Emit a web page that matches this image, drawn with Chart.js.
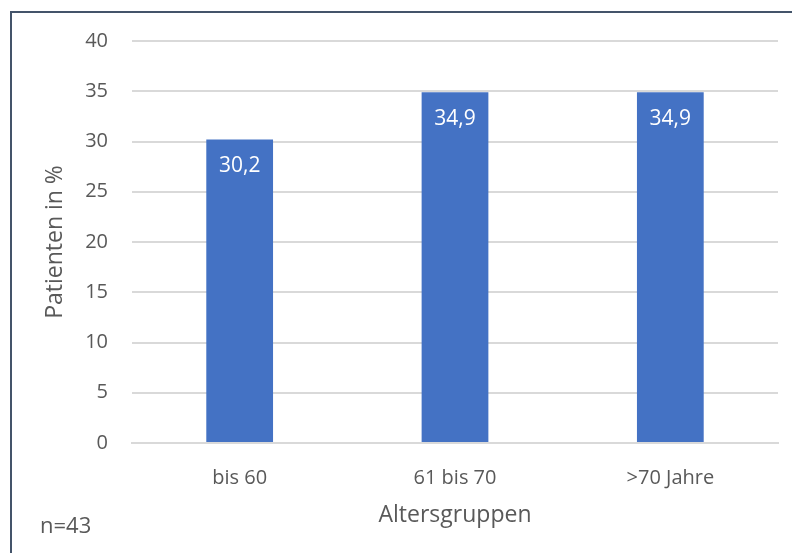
<!DOCTYPE html>
<html>
<head>
<meta charset="utf-8">
<script src="https://cdn.jsdelivr.net/npm/chart.js@4.4.0/dist/chart.umd.min.js"></script>
<style>
  html, body { margin: 0; padding: 0; background: #fff; overflow: hidden; }
  #rahmen { position: absolute; left: 10px; top: 11px; width: 820px; height: 580px; border: 2px solid #44546a; box-sizing: border-box; }
  #wrap { position: absolute; left: 0; top: 0; width: 792px; height: 553px; }
</style>
</head>
<body>
<div id="rahmen"></div>
<div id="wrap"><canvas id="myChart" width="792" height="553"></canvas></div>
<script>
const kategorien = ['bis 60', '61 bis 70', '>70 Jahre'];
const werte = [30.2, 34.9, 34.9];
const yTicks = [0, 5, 10, 15, 20, 25, 30, 35, 40];

const textFarbe = '#595959';
const schrift = "'Open Sans', sans-serif";

document.addEventListener('DOMContentLoaded', () => {

  const beschriftung = {
    id: 'beschriftung',
    afterDatasetsDraw(chart) {
      const ctx = chart.ctx;
      const meta = chart.getDatasetMeta(0);
      ctx.save();
      ctx.font = '21px ' + schrift;
      ctx.fillStyle = '#ffffff';
      ctx.textAlign = 'center';
      ctx.textBaseline = 'middle';
      meta.data.forEach((bar, i) => {
        ctx.fillText(werte[i].toFixed(1).replace('.', ','), bar.x, bar.y + 27);
      });
      ctx.font = '22px ' + schrift;
      ctx.fillStyle = textFarbe;
      ctx.textAlign = 'left';
      ctx.fillText('n=43', 40, 527);
      ctx.restore();
    }
  };

  const data = {
    labels: kategorien,
    datasets: [{
      label: 'Patienten in %',
      backgroundColor: '#4472c4',
      data: werte,
      barPercentage: 0.31,
      categoryPercentage: 1
    }]
  };

  const config = {
    type: 'bar',
    data,
    options: {
      responsive: false,
      animation: false,
      layout: { padding: { left: 0, top: 41, right: 14, bottom: 0 } },
      plugins: { legend: { display: false }, tooltip: { enabled: false } },
      scales: {
        x: {
          grid: { display: false, drawTicks: false },
          border: { color: '#d9d9d9', width: 2 },
          ticks: { color: textFarbe, font: { family: schrift, size: 20 }, padding: 23 },
          title: { display: true, text: 'Altersgruppen', color: textFarbe, font: { family: schrift, size: 23 }, padding: { top: 0, bottom: 24 } },
          afterFit: scale => { scale.height = 110; }
        },
        y: {
          min: 0,
          max: 40,
          afterBuildTicks: scale => { scale.ticks = yTicks.map(v => ({ value: v })); },
          grid: { color: '#d9d9d9', lineWidth: 2, drawTicks: false },
          border: { display: false },
          ticks: { color: textFarbe, font: { family: schrift, size: 20 }, padding: 24 },
          title: { display: true, text: 'Patienten in %', color: textFarbe, font: { family: schrift, size: 23 }, padding: { top: 42, bottom: 0 } },
          afterFit: scale => { scale.width = 132; }
        }
      }
    },
    plugins: [beschriftung]
  };

  new Chart(document.getElementById('myChart'), config);
});
</script>
</body>
</html>
